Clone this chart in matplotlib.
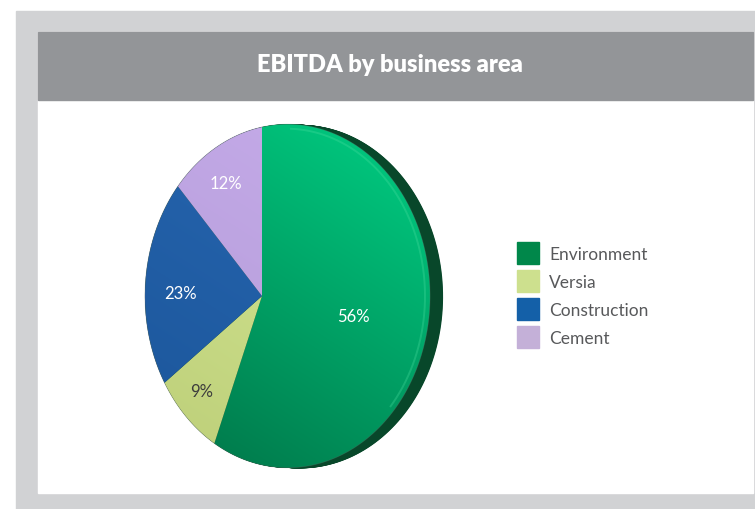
import numpy as np
import matplotlib.pyplot as plt
from matplotlib.patches import Rectangle, Polygon
from matplotlib.colors import to_rgb

# EBITDA split by business area (%)
areas = ['Environment', 'Versia', 'Construction', 'Cement']
shares = [56, 9, 23, 12]

# face shading: light (upper right) -> dark (lower left)
face_light = ['#00c47c', '#d4e794', '#2766b0', '#c4aae8']
face_dark = ['#00784a', '#bed07a', '#1c579c', '#b49cd8']
legend_colors = ['#00874a', '#cde08e', '#1460a8', '#c4b0d8']
label_colors = ['white', '#3c3c3c', 'white', 'white']
side_color = '#08472a'

# label placement (radius fraction, angle nudge in degrees)
label_r = [0.6, 0.78, 0.66, 0.75]
label_nudge = [0, 0, -4, 0]

# pie geometry in pixels, tilted with a bit of perspective
CX, CY = 262, 296
RX, RY = 138, 169
K = 0.179
DEPTH = 13

W, H = 755, 509
fig = plt.figure(figsize=(W / 100, H / 100), dpi=100)
fig.patch.set_facecolor('white')
ax = fig.add_axes([0, 0, 1, 1])
ax.set_xlim(0, W)
ax.set_ylim(H, 0)
ax.axis('off')

# frame, panel and title bar
ax.add_patch(Rectangle((16, 11), W - 16, H - 11, color='#d1d2d4', zorder=0))
ax.add_patch(Rectangle((38, 32), 715, 461, color='white', zorder=1))
ax.add_patch(Rectangle((38, 32), 715, 68, color='#939598', zorder=2))
ax.text(390, 65, 'EBITDA by business area', color='white', fontsize=17,
        fontweight='heavy', family=['Lato', 'DejaVu Sans'],
        ha='center', va='center', zorder=3)


def project(u, v):
    w = 1.0 / (1.0 - K * u)
    return CX + RX * u * w, CY - RY * v * w


def outline(a0, a1, r=1.0, n=240, centre=True):
    t = np.radians(np.linspace(a0, a1, n))
    u, v = r * np.sin(t), r * np.cos(t)
    if centre:
        u = np.concatenate([[0], u, [0]])
        v = np.concatenate([[0], v, [0]])
    return project(u, v)


# side of the disc, seen on the right
rx, ry = outline(0, 360, centre=False)
for dx in np.linspace(0, DEPTH, 27):
    ax.fill(rx + dx, ry + dx * 0.05, color=side_color, lw=0, zorder=4)

# shading grid for the slice faces
gx, gy = np.meshgrid(np.arange(100, 460), np.arange(110, 480))
grad = ((gx - CX) * 0.55 - (gy - CY) * 0.85) / 180.0
grad = np.clip((grad + 1) / 2, 0, 1)[..., None]

bounds = np.concatenate([[0], np.cumsum(shares)]) * 3.6
for i, share in enumerate(shares):
    a0, a1 = bounds[i], bounds[i + 1]
    px, py = outline(a0, a1)
    poly = Polygon(np.column_stack([px, py]), closed=True, fc='none', ec='none',
                   zorder=5)
    ax.add_patch(poly)
    lo = np.array(to_rgb(face_dark[i]))
    hi = np.array(to_rgb(face_light[i]))
    img = lo + (hi - lo) * grad
    im = ax.imshow(img, extent=(100, 460, 480, 110), interpolation='bilinear',
                   aspect='auto', zorder=5)
    im.set_clip_path(poly)

    mid = (a0 + a1) / 2 + label_nudge[i]
    lx, ly = project(label_r[i] * np.sin(np.radians(mid)),
                     label_r[i] * np.cos(np.radians(mid)))
    ax.text(lx, ly, f'{share}%', color=label_colors[i], fontsize=12,
            family=['Lato', 'DejaVu Sans'],
            ha='center', va='center', zorder=7)

# soft rim highlight along the green face
hx, hy = outline(12, 125, r=0.975, centre=False)
ax.plot(hx, hy, color='#4fe0a2', lw=1.4, alpha=0.3, zorder=6)
ox, oy = outline(0, 360, centre=False)
ax.plot(ox, oy, color='#6b6b6b', lw=0.6, alpha=0.3, zorder=6)

ax.set_xlim(0, W)
ax.set_ylim(H, 0)

# legend
for i, name in enumerate(areas):
    top = 242 + i * 28
    ax.add_patch(Rectangle((517, top), 22, 22, color=legend_colors[i], zorder=5))
    ax.text(549, top + 13, name, color='#58595b', fontsize=12.5,
            family=['Lato', 'DejaVu Sans'],
            ha='left', va='center', zorder=5)

fig.savefig('out.png', dpi=100)
